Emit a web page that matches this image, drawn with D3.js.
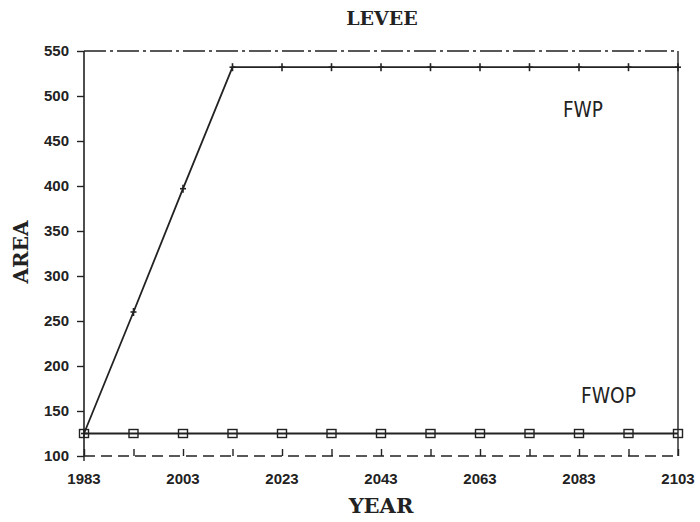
<!DOCTYPE html>
<html>
<head>
<meta charset="utf-8">
<script src="https://cdn.jsdelivr.net/npm/d3@7"></script>
<style>
  body { margin: 0; background: #fff; }
  svg { display: block; }
</style>
</head>
<body>
<div id="chart"></div>
<script>
const years = [1983, 1993, 2003, 2013, 2023, 2033, 2043, 2053, 2063, 2073, 2083, 2093, 2103];
const fwp = [125, 260, 397, 532, 532, 532, 532, 532, 532, 532, 532, 532, 532];
const fwop = [125, 125, 125, 125, 125, 125, 125, 125, 125, 125, 125, 125, 125];
const xTickLabels = [1983, 2003, 2023, 2043, 2063, 2083, 2103];
const yTickLabels = [100, 150, 200, 250, 300, 350, 400, 450, 500, 550];

const W = 700, H = 522;
const margin = { top: 51, right: 22, bottom: 66, left: 84 };
const width = W - margin.left - margin.right;
const height = H - margin.top - margin.bottom;
const ink = "#222";

const svg = d3.select("#chart").append("svg")
    .attr("width", W)
    .attr("height", H);

const g = svg.append("g")
    .attr("transform", `translate(${margin.left},${margin.top})`);

const x = d3.scaleLinear().domain([1983, 2103]).range([0, width]);
const y = d3.scaleLinear().domain([100, 550]).range([height, 0]);

// frame: solid sides, dash-dot top, dashed bottom
g.append("line").attr("x1", 0).attr("x2", 0).attr("y1", 0).attr("y2", height)
    .attr("stroke", ink).attr("stroke-width", 1.6);
g.append("line").attr("x1", width).attr("x2", width).attr("y1", 0).attr("y2", height)
    .attr("stroke", ink).attr("stroke-width", 1.4);
g.append("line").attr("x1", 0).attr("x2", width).attr("y1", 0).attr("y2", 0)
    .attr("stroke", ink).attr("stroke-width", 1.3)
    .attr("stroke-dasharray", "22,4,3,4");
g.append("line").attr("x1", 0).attr("x2", width).attr("y1", height).attr("y2", height)
    .attr("stroke", ink).attr("stroke-width", 1.3)
    .attr("stroke-dasharray", "11,6");

// y axis ticks + labels
const yAxis = d3.axisLeft(y).tickValues(yTickLabels).tickSize(7).tickPadding(8);
const yg = g.append("g").call(yAxis);
yg.select(".domain").remove();
yg.selectAll(".tick line").attr("stroke", ink).attr("stroke-width", 1.4);
yg.selectAll(".tick text")
    .attr("fill", ink)
    .style("font-family", "'Liberation Sans', Arial, sans-serif")
    .style("font-weight", "bold")
    .style("font-size", "15px");

// x axis: inward ticks every 10 years, labels every 20
const xAxis = d3.axisBottom(x).tickValues(years).tickSize(-7).tickFormat("");
const xg = g.append("g").attr("transform", `translate(0,${height})`).call(xAxis);
xg.select(".domain").remove();
xg.selectAll(".tick line").attr("stroke", ink).attr("stroke-width", 1.4);

g.append("g").selectAll("text")
    .data(xTickLabels)
    .enter().append("text")
    .attr("x", d => x(d))
    .attr("y", height + 28)
    .attr("text-anchor", "middle")
    .attr("fill", ink)
    .style("font-family", "'Liberation Sans', Arial, sans-serif")
    .style("font-weight", "bold")
    .style("font-size", "15px")
    .text(d => d);

// small tick below the 1983 corner
g.append("line").attr("x1", 0).attr("x2", 0).attr("y1", height).attr("y2", height + 5)
    .attr("stroke", ink).attr("stroke-width", 1.4);

// lines
const line = d3.line().x(d => x(d[0])).y(d => y(d[1]));

g.append("path")
    .datum(years.map((d, i) => [d, fwop[i]]))
    .attr("d", line)
    .attr("fill", "none")
    .attr("stroke", ink)
    .attr("stroke-width", 1.8);

g.append("path")
    .datum(years.map((d, i) => [d, fwp[i]]))
    .attr("d", line)
    .attr("fill", "none")
    .attr("stroke", ink)
    .attr("stroke-width", 1.8);

// FWOP square markers
g.selectAll(".sq")
    .data(years.map((d, i) => [d, fwop[i]]))
    .enter().append("rect")
    .attr("class", "sq")
    .attr("x", d => x(d[0]) - 4.5)
    .attr("y", d => y(d[1]) - 4)
    .attr("width", 9)
    .attr("height", 8)
    .attr("fill", "none")
    .attr("stroke", ink)
    .attr("stroke-width", 1.4);

// FWP plus markers
const plus = g.selectAll(".plus")
    .data(years.map((d, i) => [d, fwp[i]]))
    .enter().append("g")
    .attr("class", "plus")
    .attr("transform", d => `translate(${x(d[0])},${y(d[1])})`);
plus.append("line").attr("x1", 0).attr("x2", 0).attr("y1", -4).attr("y2", 4)
    .attr("stroke", ink).attr("stroke-width", 1.6);
plus.append("line").attr("x1", -3).attr("x2", 3).attr("y1", 0).attr("y2", 0)
    .attr("stroke", ink).attr("stroke-width", 1.6);

// series labels
g.append("text")
    .attr("x", 563 - margin.left)
    .attr("y", 117 - margin.top)
    .attr("fill", ink)
    .attr("textLength", 40)
    .attr("lengthAdjust", "spacingAndGlyphs")
    .style("font-family", "'DejaVu Sans', sans-serif")
    .style("font-size", "21px")
    .text("FWP");

g.append("text")
    .attr("x", 581 - margin.left)
    .attr("y", 403 - margin.top)
    .attr("fill", ink)
    .attr("textLength", 55)
    .attr("lengthAdjust", "spacingAndGlyphs")
    .style("font-family", "'DejaVu Sans', sans-serif")
    .style("font-size", "21px")
    .text("FWOP");

// titles
svg.append("text")
    .attr("x", 382)
    .attr("y", 25)
    .attr("text-anchor", "middle")
    .attr("fill", ink)
    .style("font-family", "'DejaVu Serif', 'Liberation Serif', serif")
    .style("font-weight", "bold")
    .style("font-size", "19px")
    .text("LEVEE");

svg.append("text")
    .attr("x", 381)
    .attr("y", 513)
    .attr("text-anchor", "middle")
    .attr("fill", ink)
    .style("font-family", "'DejaVu Serif', 'Liberation Serif', serif")
    .style("font-weight", "bold")
    .style("font-size", "21px")
    .text("YEAR");

svg.append("text")
    .attr("transform", "translate(28,252) rotate(-90)")
    .attr("text-anchor", "middle")
    .attr("fill", ink)
    .style("font-family", "'DejaVu Serif', 'Liberation Serif', serif")
    .style("font-weight", "bold")
    .style("font-size", "20px")
    .text("AREA");
</script>
</body>
</html>
